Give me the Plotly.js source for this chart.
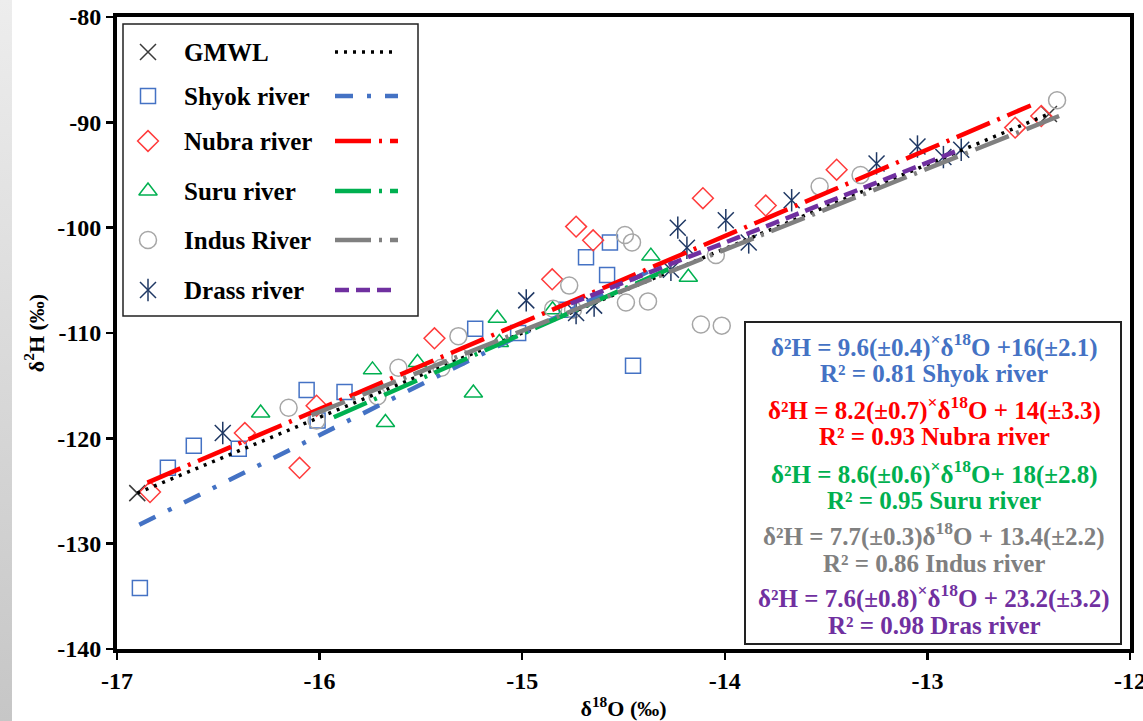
<!DOCTYPE html>
<html>
<head>
<meta charset="utf-8">
<script src="https://cdn.plot.ly/plotly-3.0.1.min.js"></script>
<style>
  html, body { margin:0; padding:0; background:#ffffff; }
  #band { position:absolute; left:0; top:0; width:12px; height:721px;
          background:linear-gradient(to bottom, #ededed, #c6c6c6); }
  #chart { position:absolute; left:0; top:0; width:1143px; height:721px; }
</style>
</head>
<body>
<div id="band"></div>
<div id="chart"></div>
<script>
// ---------------- data ----------------
const xTickVals = [-17, -16, -15, -14, -13, -12];
const xTickText = ['-17', '-16', '-15', '-14', '-13', '-12'];
const yTickVals = [-140, -130, -120, -110, -100, -90, -80];
const yTickText = ['-140', '-130', '-120', '-110', '-100', '-90', '-80'];

const gmwlX = [-16.9, -12.4];
const gmwlY = [-125.2, -89.2];
const gmwlLineX = [-16.9, -12.4];
const gmwlLineY = [-125.2, -89.2];

const shyokX = [-16.887, -16.749, -16.621, -16.399, -16.064, -15.877, -16.01, -15.232, -15.02, -14.685, -14.567, -14.581, -14.453, -14.78];
const shyokY = [-134.2, -122.8, -120.7, -121.0, -115.4, -115.6, -118.3, -109.6, -110.0, -102.8, -101.4, -104.5, -113.1, -107.8];
const shyokLineX = [-16.89, -14.35];
const shyokLineY = [-128.2, -103.9];

const nubraX = [-16.837, -16.369, -16.099, -16.015, -15.433, -14.852, -14.734, -14.65, -14.108, -13.798, -13.448, -12.567, -12.438];
const nubraY = [-125.1, -119.5, -122.8, -116.9, -110.5, -104.9, -99.9, -101.2, -97.2, -97.9, -94.5, -90.5, -89.4];
const nubraLineX = [-16.85, -12.49];
const nubraLineY = [-124.2, -88.4];

const suruX = [-16.291, -15.739, -15.675, -15.517, -15.241, -15.123, -15.113, -14.365, -14.18, -14.85];
const suruY = [-117.6, -113.5, -118.5, -112.8, -115.7, -108.6, -110.9, -102.7, -104.7, -107.8];
const suruLineX = [-15.93, -14.25];
const suruLineY = [-118.0, -103.7];

const indusX = [-16.153, -16.015, -15.611, -15.714, -15.399, -15.315, -15.305, -14.768, -14.847, -14.749, -14.493, -14.458, -14.488, -14.379, -14.118, -14.015, -14.044, -13.532, -13.33, -12.36];
const indusY = [-117.1, -118.3, -113.3, -116.0, -113.3, -110.3, -112.3, -105.5, -107.7, -107.8, -100.7, -101.4, -107.1, -107.0, -109.2, -109.3, -102.6, -96.1, -95.0, -87.9];
const indusLineX = [-16.04, -12.35];
const indusLineY = [-117.8, -89.4];

const drassX = [-16.478, -14.98, -14.734, -14.645, -14.266, -14.232, -14.187, -13.995, -13.882, -13.67, -13.251, -13.049, -12.921, -12.833];
const drassY = [-119.5, -106.9, -108.1, -107.4, -104.0, -100.0, -101.9, -99.3, -101.4, -97.4, -93.9, -92.3, -93.3, -92.6];
const drassLineX = [-14.76, -12.84];
const drassLineY = [-107.2, -92.6];

const legendNames = ['GMWL', 'Shyok river', 'Nubra river', 'Suru river', 'Indus River', 'Drass river'];

const eqLines = [
  'δ²H = 9.6(±0.4)<sup>×</sup>δ<sup>18</sup>O +16(±2.1)',
  'R² = 0.81 Shyok river',
  'δ²H = 8.2(±0.7)<sup>×</sup>δ<sup>18</sup>O + 14(±3.3)',
  'R² = 0.93 Nubra river',
  'δ²H = 8.6(±0.6)<sup>×</sup>δ<sup>18</sup>O+ 18(±2.8)',
  'R² = 0.95 Suru river',
  'δ²H = 7.7(±0.3)δ<sup>18</sup>O + 13.4(±2.2)',
  'R² = 0.86 Indus river',
  'δ²H = 7.6(±0.8)<sup>×</sup>δ<sup>18</sup>O + 23.2(±3.2)',
  'R² = 0.98 Dras river'
];

// ---------------- styles ----------------
const SERIF = 'Liberation Serif, Times New Roman, serif';
const C = {
  gmwl:'#3a3a3a', shyok:'#4472C4', nubra:'#FF3b3b', nubraLine:'#FF0000',
  suru:'#00B050', indus:'#A6A6A6', indusLine:'#808080', drass:'#1F3864', drassLine:'#7030A0'
};
const eqColors = ['#4472C4','#4472C4','#FF0000','#FF0000','#00B050','#00B050','#808080','#808080','#7030A0','#7030A0'];

const series = [
  {x:gmwlX, y:gmwlY, lx:gmwlLineX, ly:gmwlLineY, sym:['x-thin-open'], size:16, mc:C.gmwl,
   lc:'#000000', lw:3.5, dash:'3px,6px'},
  {x:shyokX, y:shyokY, lx:shyokLineX, ly:shyokLineY, sym:['square-open'], size:15, mc:C.shyok,
   lc:C.shyok, lw:4.5, dash:'18px,14px,4px,14px'},
  {x:nubraX, y:nubraY, lx:nubraLineX, ly:nubraLineY, sym:['diamond-open'], size:16, mc:C.nubra,
   lc:C.nubraLine, lw:4.5, dash:'36px,8px,3px,8px'},
  {x:suruX, y:suruY, lx:suruLineX, ly:suruLineY, sym:['triangle-up-open'], size:16, mc:C.suru,
   lc:C.suru, lw:4.5, dash:'36px,8px,3px,8px'},
  {x:indusX, y:indusY, lx:indusLineX, ly:indusLineY, sym:['circle-open'], size:17, mc:C.indus,
   lc:C.indusLine, lw:4.5, dash:'36px,8px,3px,8px'},
  {x:drassX, y:drassY, lx:drassLineX, ly:drassLineY, sym:['x-thin-open','line-ns-open'], size:16, mc:C.drass,
   lc:C.drassLine, lw:4.5, dash:'14px,7px'}
];

const traces = [];
series.forEach(s => {
  s.sym.forEach(sym => {
    traces.push({type:'scatter', mode:'markers', x:s.x, y:s.y, hoverinfo:'skip',
      marker:{symbol:sym, size:s.size, color:s.mc, line:{color:s.mc, width:1.5}}});
  });
});
series.forEach(s => {
  traces.push({type:'scatter', mode:'lines', x:s.lx, y:s.ly, hoverinfo:'skip',
    line:{color:s.lc, width:s.lw, dash:s.dash}});
});

// ---------------- custom legend (pixel overlay axes) ----------------
const rowY = [52, 96, 141, 191, 240, 290];
const shapes = [
  {type:'rect', xref:'x2', yref:'y2', x0:123, x1:418, y0:24, y1:316,
   line:{color:'#222', width:1.5}, fillcolor:'white', layer:'below'},
  {type:'rect', xref:'x2', yref:'y2', x0:745, x1:1121, y0:322, y1:644,
   line:{color:'#222', width:2}, fillcolor:'white', layer:'below'}
];
const annotations = [];
series.forEach((s, i) => {
  s.sym.forEach(sym => {
    traces.push({type:'scatter', mode:'markers', xaxis:'x2', yaxis:'y2', x:[148], y:[rowY[i]],
      hoverinfo:'skip', cliponaxis:false,
      marker:{symbol:sym, size:s.size, color:s.mc, line:{color:s.mc, width:1.5}}});
  });
  traces.push({type:'scatter', mode:'lines', xaxis:'x2', yaxis:'y2', x:[335, 398], y:[rowY[i], rowY[i]],
    hoverinfo:'skip', line:{color:s.lc, width:s.lw, dash:s.dash}});
  annotations.push({xref:'x2', yref:'y2', x:182, y:rowY[i], xanchor:'left', yanchor:'middle',
    text:'<b>' + legendNames[i] + '</b>', showarrow:false,
    font:{family:SERIF, size:25, color:'#000'}});
});

const eqY = [345, 373, 408, 436, 472, 500, 534, 563, 596, 625];
eqLines.forEach((t, i) => {
  annotations.push({xref:'x2', yref:'y2', x:934, y:eqY[i], xanchor:'center', yanchor:'middle',
    text:'<b>' + t + '</b>', showarrow:false,
    font:{family:SERIF, size:25, color:eqColors[i]}});
});

const tickFont = () => ({family:SERIF, size:24, color:'#000'});
const bold = arr => arr.map(t => '<b>' + t + '</b>');
const layout = {
  width:1143, height:721,
  margin:{l:117, r:13, t:17, b:72},
  font:{family:SERIF, color:'#000'},
  paper_bgcolor:'rgba(0,0,0,0)', plot_bgcolor:'#ffffff',
  showlegend:false,
  xaxis:{range:[-17,-12], tickmode:'array', tickvals:xTickVals, ticktext:bold(xTickText),
    showgrid:false, zeroline:false, ticklabeloverflow:'allow',
    showline:true, linewidth:4, linecolor:'#000', mirror:true,
    ticks:'outside', ticklen:7, tickwidth:2.5, tickcolor:'#000', tickfont:tickFont(),
    title:{text:'<b>δ<sup>18</sup>O (‰)</b>', font:{family:SERIF, size:22, color:'#000'}, standoff:9}},
  yaxis:{range:[-140,-80], tickmode:'array', tickvals:yTickVals, ticktext:bold(yTickText),
    showgrid:false, zeroline:false, ticklabeloverflow:'allow',
    showline:true, linewidth:4, linecolor:'#000', mirror:true,
    ticks:'outside', ticklen:7, tickwidth:2.5, tickcolor:'#000', tickfont:tickFont(),
    title:{text:'<b>δ<sup>2</sup>H (‰)</b>', font:{family:SERIF, size:22, color:'#000'}, standoff:8}},
  xaxis2:{overlaying:'x', range:[117,1130], visible:false, fixedrange:true},
  yaxis2:{overlaying:'y', range:[649,17], visible:false, fixedrange:true},
  shapes:shapes,
  annotations:annotations
};

Plotly.newPlot('chart', traces, layout, {displayModeBar:false, staticPlot:true});
</script>
</body>
</html>
